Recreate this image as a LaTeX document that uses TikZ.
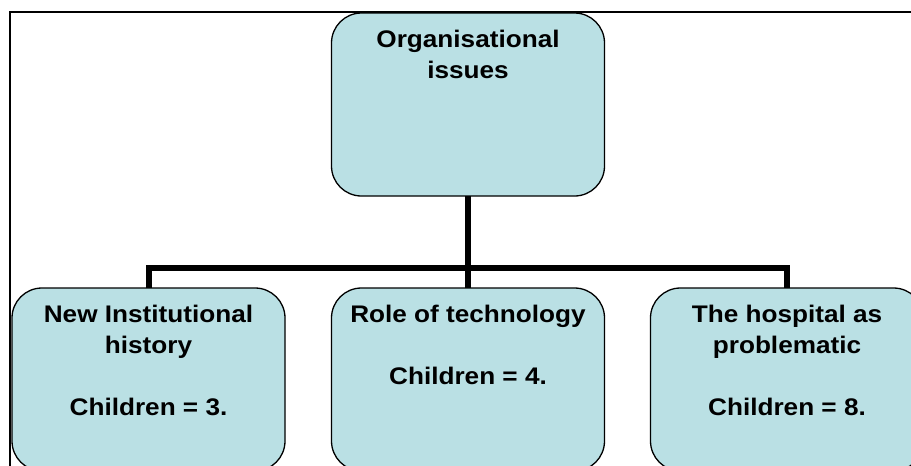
\documentclass[tikz,border=0pt]{standalone}
\usepackage{fontspec}
\setmainfont{Liberation Sans}[FakeStretch=1.09]
\definecolor{boxfill}{RGB}{186,224,228}
\tikzset{
  box/.style={draw=black, line width=1.3pt, fill=boxfill, rounded corners=30pt,
    minimum width=273pt, minimum height=183pt, inner sep=0pt, outer sep=0pt},
  conn/.style={draw=black, line width=6pt, line join=miter, line cap=butt},
  frame/.style={draw=black, line width=2pt}
}
\newcommand{\boxtext}[1]{\parbox[t][183pt][t]{265pt}{\centering\fontsize{24}{31}\selectfont\bfseries\rule{0pt}{34pt}#1}}
\begin{document}
\begin{tikzpicture}[x=1pt, y=-1pt]
\useasboundingbox (0,0) rectangle (911,466);
\fill[white] (0,0) rectangle (911,466);
\clip (0,0) rectangle (911,466);
\coordinate (j) at (468,268);
\coordinate (fb) at (10,480);
\coordinate (fc) at (10,12);
\coordinate (fr) at (920,12);
\draw[frame] (fb) -- (fc) -- (fr);
\node[box] (top) at (468,104.5) {\boxtext{Organisational\\issues}};
\node[box] (left) at (148.5,379.5) {\boxtext{New Institutional\\history\\[31pt]Children = 3.}};
\node[box] (mid) at (468,379.5) {\boxtext{Role of technology\\[31pt]Children = 4.}};
\node[box] (right) at (787,379.5) {\boxtext{The hospital as\\problematic\\[31pt]Children = 8.}};
\draw[conn] (top.south) -- (j);
\draw[conn] (left.north) |- (j) -| (right.north);
\draw[conn] (j) -- (mid.north);
\end{tikzpicture}
\end{document}
